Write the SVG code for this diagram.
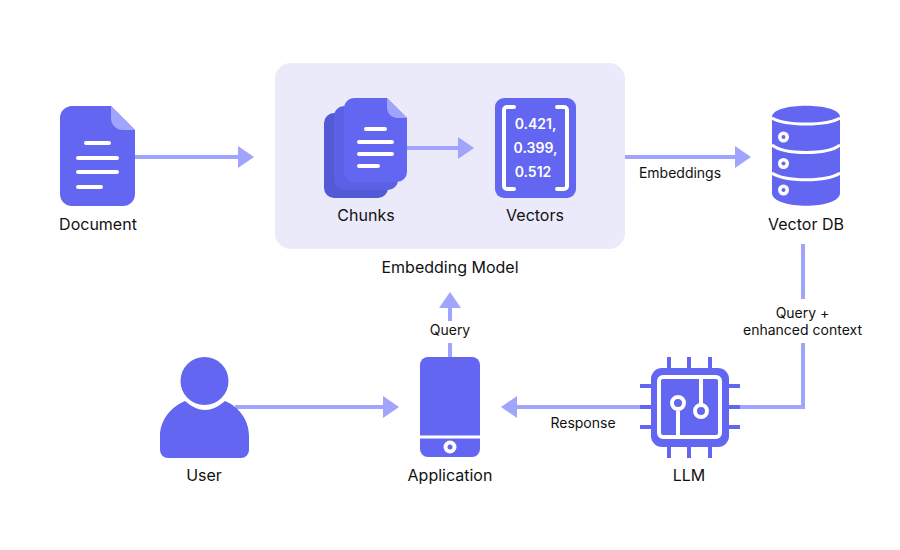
<svg xmlns="http://www.w3.org/2000/svg" width="900" height="550" viewBox="0 0 900 550">
<style>
text{font-family:Inter,"Liberation Sans",sans-serif;fill:#111;text-anchor:middle}
.n{font-size:16px}
.s{font-size:14px}
.v{font-size:14px;font-weight:600;fill:#fff}
.p{fill:#6366f1}
.c{fill:none;stroke:#a0a4fc;stroke-width:4}
.h{fill:#a0a4fc}
.w{stroke:#fff;stroke-width:4;stroke-linecap:round;fill:none}
.b{stroke:#fff;stroke-width:3;fill:none}
.l{stroke:#6366f1;stroke-width:4;fill:none}
</style>
<rect id="bg" width="900" height="550" fill="#fff"/>
<rect x="275" y="63" width="350" height="186" rx="16" fill="#eaeafb"/>
<g id="connectors">
<path class="c" d="M135 157H240"/><path class="h" d="M254 157L238 146V168Z"/>
<path class="c" d="M407 148H460"/><path class="h" d="M474 148L458 137V159Z"/>
<path class="c" d="M625 157H737"/><path class="h" d="M751 157L735 146V168Z"/>
<path class="c" d="M803 244V299M803 343V407H735"/>
<path class="c" d="M640 407H515"/><path class="h" d="M501 407L517 396V418Z"/>
<path class="c" d="M235 407H385"/><path class="h" d="M399 407L383 396V418Z"/>
<path class="c" d="M450 357V343M450 321V306"/><path class="h" d="M450 292L439 308H461Z"/>
</g>
<g id="document">
<path class="p" d="M72 106H111L135 130V194a12 12 0 0 1-12 12H72a12 12 0 0 1-12-12V118a12 12 0 0 1 12-12Z"/>
<path class="h" d="M111 106L135 130H123a12 12 0 0 1-12-12Z"/>
<path class="w" d="M86 143H109M78 158H117M78 172H117M78 187H101"/>
<text class="n" x="98" y="230">Document</text>
</g>
<g id="chunks">
<rect x="324" y="113" width="64" height="85" rx="10" fill="#5459d6"/>
<rect x="334" y="106" width="64" height="84" rx="10" fill="#5c60e6"/>
<path class="p" d="M354 98H387L407 118V172a10 10 0 0 1-10 10H354a10 10 0 0 1-10-10V108a10 10 0 0 1 10-10Z"/>
<path class="h" d="M387 98L407 118H397a10 10 0 0 1-10-10Z"/>
<path class="w" d="M366 129H385M359 142H392M359 154H392M359 166H378"/>
<text class="n" x="366" y="221">Chunks</text>
</g>
<g id="vectors">
<rect class="p" x="495" y="98" width="81" height="100" rx="9"/>
<path class="w" d="M514 107H507a3 3 0 0 0-3 3V186a3 3 0 0 0 3 3H514M557 107H564a3 3 0 0 1 3 3V186a3 3 0 0 1-3 3H557"/>
<text class="v" x="535.500" y="129">0.421,</text>
<text class="v" x="535.500" y="153">0.399,</text>
<text class="v" x="533" y="177">0.512</text>
<text class="n" x="535" y="221">Vectors</text>
</g>
<text id="embedding-model" class="n" x="450" y="273">Embedding Model</text>
<text class="s" x="680" y="178">Embeddings</text>
<g id="vector-db">
<path class="p" d="M772 117C772 102 840 102 840 117V193C840 210 772 210 772 193Z"/>
<path class="b" d="M772 118C785 126 827 126 840 118M772 145C785 155 827 155 840 145M772 173C785 182 827 182 840 173"/>
<circle cx="783.500" cy="137" r="5.500" fill="#fff"/><circle cx="783.500" cy="137" r="2" class="p"/>
<circle cx="783.500" cy="163.500" r="5.500" fill="#fff"/><circle cx="783.500" cy="163.500" r="2" class="p"/>
<circle cx="783.500" cy="190" r="5.500" fill="#fff"/><circle cx="783.500" cy="190" r="2" class="p"/>
<text class="n" x="806" y="230">Vector DB</text>
</g>
<text class="s" x="802.500" y="318">Query +</text>
<text class="s" x="802.500" y="334.500">enhanced context</text>
<g id="llm">
<path class="l" d="M669 357V370M689 357V370M710 357V370M669 445V458M689 445V458M710 445V458M640 386H652M640 407H652M640 427H652M728 386H740M728 407H740M728 427H740"/>
<rect class="p" x="651" y="368" width="78" height="79" rx="11"/>
<rect x="659" y="377" width="61" height="60" rx="4" fill="none" stroke="#fff" stroke-width="4"/>
<path d="M678 411V437M701 377V405" stroke="#fff" stroke-width="4" fill="none"/>
<circle cx="678" cy="403" r="6" fill="#6366f1" stroke="#fff" stroke-width="4"/>
<circle cx="701" cy="411" r="6" fill="#6366f1" stroke="#fff" stroke-width="4"/>
<text class="n" x="689" y="481">LLM</text>
</g>
<text class="s" x="583" y="428">Response</text>
<g id="user">
<path class="p" d="M185 401C199 413 211 413 225 401C239 407 249 420 249 436V450a8 8 0 0 1-8 8H168a8 8 0 0 1-8-8V436C160 420 171 407 185 401Z"/>
<circle class="p" cx="204.500" cy="381" r="24"/>
<text class="n" x="204" y="481">User</text>
</g>
<g id="application">
<rect class="p" x="420" y="357" width="60" height="100" rx="8"/>
<path d="M420 437H480" stroke="#fff" stroke-width="3"/>
<circle cx="450" cy="447" r="6.500" fill="#fff"/><circle class="p" cx="450" cy="447" r="2.500"/>
<text class="n" x="450" y="481">Application</text>
</g>
<text class="s" x="450" y="335">Query</text>
</svg>
